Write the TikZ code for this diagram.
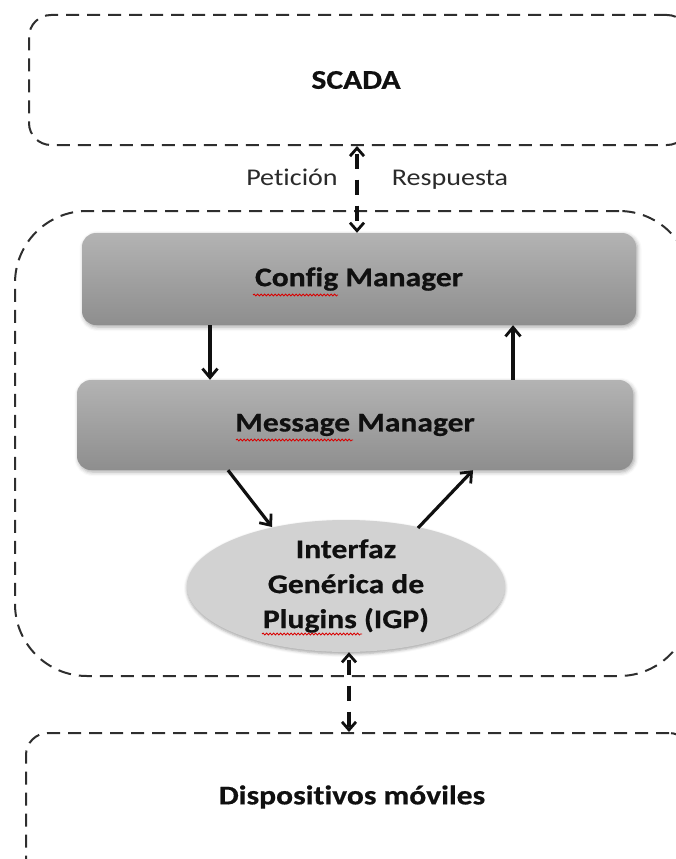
\documentclass[tikz,border=0pt]{standalone}
\usepackage{fontspec}
\setmainfont[FakeStretch=1.17, Ligatures=NoCommon, BoldFeatures={FakeBold=0.6}]{Carlito}
\usetikzlibrary{arrows.meta,shadows.blur,shapes.geometric,decorations.pathmorphing}

\definecolor{boxtop}{HTML}{B3B3B3}
\definecolor{boxbot}{HTML}{8E8E8E}
\definecolor{igpfill}{HTML}{D2D2D2}
\definecolor{zoneline}{HTML}{2E2E2E}
\definecolor{ink}{HTML}{101010}
\definecolor{labelink}{HTML}{2A2A2A}

\begin{document}
\begin{tikzpicture}[x=1pt,y=-1pt,
  zone/.style={draw=zoneline, line width=2pt, dash pattern=on 13pt off 8pt,
    rounded corners=#1, rectangle, inner sep=0pt, anchor=north west},
  zone/.default=22pt,
  title/.style={font=\bfseries\fontsize{27}{32}\selectfont, text=ink, inner sep=0pt},
  manager/.style={rectangle, rounded corners=14pt, top color=boxtop, bottom color=boxbot,
    draw=none, inner sep=0pt,
    blur shadow={shadow xshift=1.5pt, shadow yshift=-2pt, shadow blur radius=4pt, shadow opacity=35},
    font=\bfseries\fontsize{27}{32}\selectfont, text=ink},
  igpstyle/.style={ellipse, fill=igpfill, draw=none, inner sep=0pt,
    minimum width=318pt, minimum height=117pt, align=center,
    blur shadow={shadow xshift=0pt, shadow yshift=-2pt, shadow blur radius=3pt, shadow opacity=35},
    font=\bfseries\fontsize{27}{35}\selectfont, text=ink},
  flowarrow/.style={draw=ink, line width=3.2pt, -{Straight Barb[length=9pt,width=15pt,line width=2.8pt]}},
  linkarrow/.style={draw=ink, line width=3.4pt, dash pattern=on 15pt off 11pt, dash phase=-4pt,
    {Straight Barb[length=8pt,width=14pt,line width=2.8pt]}-{Straight Barb[length=8pt,width=14pt,line width=2.8pt]}},
  tag/.style={font=\fontsize{24}{28}\selectfont, text=labelink, inner sep=0pt, anchor=base},
  squiggle/.style={draw=red!85!black, line width=0.8pt,
    decorate, decoration={snake, segment length=3.5pt, amplitude=1pt}}
]
\useasboundingbox (0,0) rectangle (676,859);
\clip (0,0) rectangle (676,859);

% outer dashed zones
\node[zone=22pt, minimum width=660pt, minimum height=130pt] (scada) at (28,14) {};
\node[zone=72pt, minimum width=676pt, minimum height=465pt] (core) at (14,210) {};
\node[zone=22pt, minimum width=665pt, minimum height=170pt] (devices) at (25,732) {};

\node[title] (scadat) at (356,80) {SCADA};
\node[title] (devt) at (352,797) {Dispositivos móviles};

% managers and plugin interface
\node[manager, minimum width=554pt, minimum height=92pt] (config) at (359,279) {Config Manager};
\node[manager, minimum width=556pt, minimum height=90pt] (message) at (355,425) {Message Manager};
\node[igpstyle] (igp) at (346,586) {Interfaz\\Genérica de\\Plugins (IGP)};

% request / response labels, on a shared baseline
\node[tag] (req) at (292,185) {Petición};
\node[tag] (resp) at (450,185) {Respuesta};

% helper abscissae for the connectors
\coordinate (xa) at (210,0);
\coordinate (xb) at (513,0);
\coordinate (xt) at (357,0);
\coordinate (xd) at (349,0);
\coordinate (p1) at (228,0);
\coordinate (p2) at (272,527);
\coordinate (q1) at (418,528);
\coordinate (q2) at (473,0);

% links to SCADA and to the mobile devices
\draw[linkarrow] (scada.south -| xt) -- (config.north -| xt);
\draw[linkarrow] (igp.south -| xd) -- (devices.north -| xd);

% internal flow
\draw[flowarrow] (config.south -| xa) -- (message.north -| xa);
\draw[flowarrow] (message.north -| xb) -- (config.south -| xb);
\draw[flowarrow] (message.south -| p1) -- (p2);
\draw[flowarrow] (q1) -- (message.south -| q2);

% spell-check underlines
\draw[squiggle] (253,295) -- (338,295);
\draw[squiggle] (236,440) -- (353,440);
\draw[squiggle] (262,634) -- (362,634);
\end{tikzpicture}
\end{document}
